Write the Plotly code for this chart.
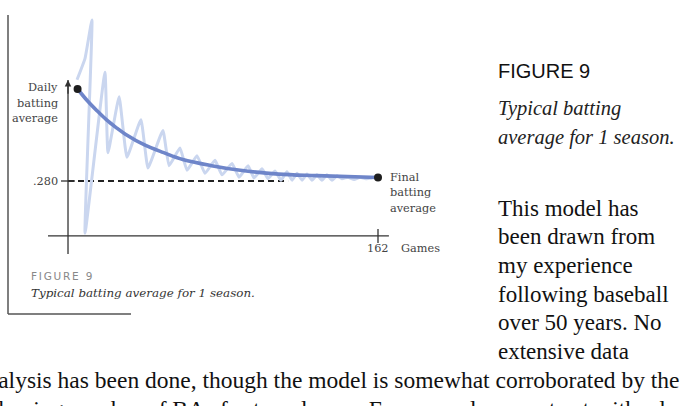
import plotly.graph_objects as go

# ---------------- data ----------------
# smooth model curve: games vs batting average
smooth_games = [5, 10, 15, 20, 25, 30, 40, 50, 60, 75, 90, 110, 130, 162]
smooth_ba = [0.400, 0.385, 0.372, 0.360, 0.350, 0.341, 0.327, 0.317, 0.308, 0.300, 0.294,
             0.289, 0.287, 0.2845]

# daily (oscillating) batting average, light line
daily_games = [4.7, 8.9, 12.5, 8.9, 19.3, 20.9, 26.7, 30.8, 38.1, 41.8, 49.6, 52.8, 58.5, 62.2,
               67.4, 71.6, 76.8, 80.5, 85.7, 89.4, 94.1, 97.2, 101.4, 104.5, 108.2, 111.3,
               114.4, 117.1, 119.7, 122.3, 124.9, 127.5, 130.1, 132.7, 135.3, 138.0, 140.6,
               143.2, 146.3, 149.5, 152.6, 155.7, 158.9]
daily_ba = [0.412, 0.440, 0.490, 0.212, 0.422, 0.317, 0.390, 0.311, 0.360, 0.297, 0.346, 0.300,
            0.323, 0.294, 0.313, 0.290, 0.307, 0.288, 0.303, 0.285, 0.300, 0.284, 0.296, 0.283,
            0.293, 0.281, 0.292, 0.281, 0.290, 0.281, 0.289, 0.281, 0.288, 0.281, 0.288, 0.281,
            0.287, 0.283, 0.285, 0.282, 0.285, 0.283, 0.284]

final_ba = 0.280
dash_end_game = 115
endpoint_games = [5, 162]
endpoint_ba = [0.400, 0.2845]

x_tick_vals = [162]
x_tick_text = ["162"]
y_tick_vals = [0.280]
y_tick_text = [".280"]

# axis extents (data units)
x_axis_span = [-10.45, 167.7]
x_axis_level = 0.2083
y_axis_span = [0.1848, 0.4117]

W, H = 688, 406
X_RANGE = [-35.54, 324.0]
Y_RANGE = [-0.01347, 0.51608]


def px(x):
    return x / W


def py(y):
    return 1 - y / H


fig = go.Figure()

# dashed final-average line
fig.add_trace(go.Scatter(x=[0, dash_end_game], y=[final_ba, final_ba], mode="lines",
                         line=dict(color="#222", width=1.8, dash="6px,4px"), hoverinfo="skip"))
# daily oscillating line
fig.add_trace(go.Scatter(x=daily_games, y=daily_ba, mode="lines",
                         line=dict(color="#cad6ef", width=3, shape="spline", smoothing=0.35),
                         hoverinfo="skip"))
# smooth model curve
fig.add_trace(go.Scatter(x=smooth_games, y=smooth_ba, mode="lines",
                         line=dict(color="#6e85c9", width=3.6, shape="spline"), hoverinfo="skip"))
# end points
fig.add_trace(go.Scatter(x=endpoint_games, y=endpoint_ba, mode="markers",
                         marker=dict(color="#1e1e1e", size=8), hoverinfo="skip"))
# x axis line
fig.add_trace(go.Scatter(x=x_axis_span, y=[x_axis_level, x_axis_level], mode="lines",
                         line=dict(color="#333", width=1.3), hoverinfo="skip"))
# y axis line
fig.add_trace(go.Scatter(x=[0, 0], y=y_axis_span, mode="lines",
                         line=dict(color="#333", width=1.3), hoverinfo="skip"))
# ticks
fig.add_trace(go.Scatter(x=x_tick_vals, y=[x_axis_level] * len(x_tick_vals), mode="markers",
                         marker=dict(symbol="line-ns", size=10, line=dict(color="#333", width=1.3)),
                         hoverinfo="skip"))
fig.add_trace(go.Scatter(x=[0] * len(y_tick_vals), y=y_tick_vals, mode="markers",
                         marker=dict(symbol="line-ew", size=10, line=dict(color="#333", width=1.3)),
                         hoverinfo="skip"))

ann = []
# arrow head on y axis
ann.append(dict(x=0, y=y_axis_span[1], ax=0, ay=y_axis_span[1] - 0.02, xref="x", yref="y",
                axref="x", ayref="y", text="", showarrow=True, arrowhead=2, arrowsize=1,
                arrowwidth=1.3, arrowcolor="#333"))

serif_small = dict(family="DejaVu Serif", size=11.3, color="#444")
for i, t in enumerate(["Daily", "batting", "average"]):
    ann.append(dict(x=px(60), y=py(88 + 15.3 * i), xref="paper", yref="paper", text=t,
                    showarrow=False, xanchor="right", yanchor="middle", font=serif_small))
for t, v in zip(y_tick_text, y_tick_vals):
    ann.append(dict(x=-3, y=v, xref="x", yref="y", text=t, showarrow=False, xanchor="right",
                    yanchor="middle", xshift=-2, font=serif_small))
for t, v in zip(x_tick_text, x_tick_vals):
    ann.append(dict(x=v, y=py(248), xref="x", yref="paper", text=t, showarrow=False,
                    xanchor="center", yanchor="middle", font=serif_small))
ann.append(dict(x=px(399), y=py(248), xref="paper", yref="paper", text="Games", showarrow=False,
                xanchor="left", yanchor="middle", font=serif_small))
for i, t in enumerate(["Final", "batting", "average"]):
    ann.append(dict(x=px(388), y=py(177 + 15.5 * i), xref="paper", yref="paper", text=t,
                    showarrow=False, xanchor="left", yanchor="middle", font=serif_small))

ann.append(dict(x=px(29), y=py(276), xref="paper", yref="paper",
                text="F\u2006I\u2006G\u2006U\u2006R\u2006E\u2009\u2006 9", showarrow=False,
                xanchor="left", yanchor="middle",
                font=dict(family="DejaVu Sans", size=10.5, color="#888")))
ann.append(dict(x=px(29), y=py(293), xref="paper", yref="paper",
                text="<i>Typical batting average for 1 season.</i>", showarrow=False,
                xanchor="left", yanchor="middle",
                font=dict(family="DejaVu Serif", size=11.9, color="#333")))

# right-hand caption
ann.append(dict(x=px(496), y=py(71), xref="paper", yref="paper", text="FIGURE 9", showarrow=False,
                xanchor="left", yanchor="middle",
                font=dict(family="Liberation Sans", size=20, color="#111")))
for i, t in enumerate(["Typical batting", "average for 1 season."]):
    ann.append(dict(x=px(496), y=py(108 + 29 * i), xref="paper", yref="paper",
                    text="<i>" + t + "</i>", showarrow=False, xanchor="left", yanchor="middle",
                    font=dict(family="Liberation Serif", size=20.5, color="#222")))

body = ["This model has", "been drawn from", "my experience", "following baseball",
        "over 50 years. No", "extensive data"]
body_font = dict(family="Liberation Serif", size=23, color="#111")
wide_font = dict(family="Liberation Serif", size=23.5, color="#111")
for i, t in enumerate(body):
    ann.append(dict(x=px(496), y=py(208 + 28.7 * i), xref="paper", yref="paper", text=t,
                    showarrow=False, xanchor="left", yanchor="middle", font=body_font))
ann.append(dict(x=px(-26.5), y=py(380), xref="paper", yref="paper",
                text="analysis has been done, though the model is somewhat corroborated by the",
                showarrow=False, xanchor="left", yanchor="middle", font=wide_font))
ann.append(dict(x=px(-30), y=py(409), xref="paper", yref="paper",
                text="following number of BAs for top players. For example, a contrast with a low",
                showarrow=False, xanchor="left", yanchor="middle", font=wide_font))

shapes = [
    dict(type="line", xref="paper", yref="paper", x0=px(8), x1=px(8), y0=py(15), y1=py(314),
         line=dict(color="#555", width=1.5)),
    dict(type="line", xref="paper", yref="paper", x0=px(8), x1=px(131), y0=py(314), y1=py(314),
         line=dict(color="#555", width=1.5)),
]

fig.update_layout(
    width=W, height=H, margin=dict(l=0, r=0, t=0, b=0),
    paper_bgcolor="white", plot_bgcolor="white", showlegend=False,
    xaxis=dict(range=X_RANGE, visible=False, fixedrange=True),
    yaxis=dict(range=Y_RANGE, visible=False, fixedrange=True),
    annotations=ann, shapes=shapes,
)

fig.write_html("out.html", config={"displayModeBar": False})
